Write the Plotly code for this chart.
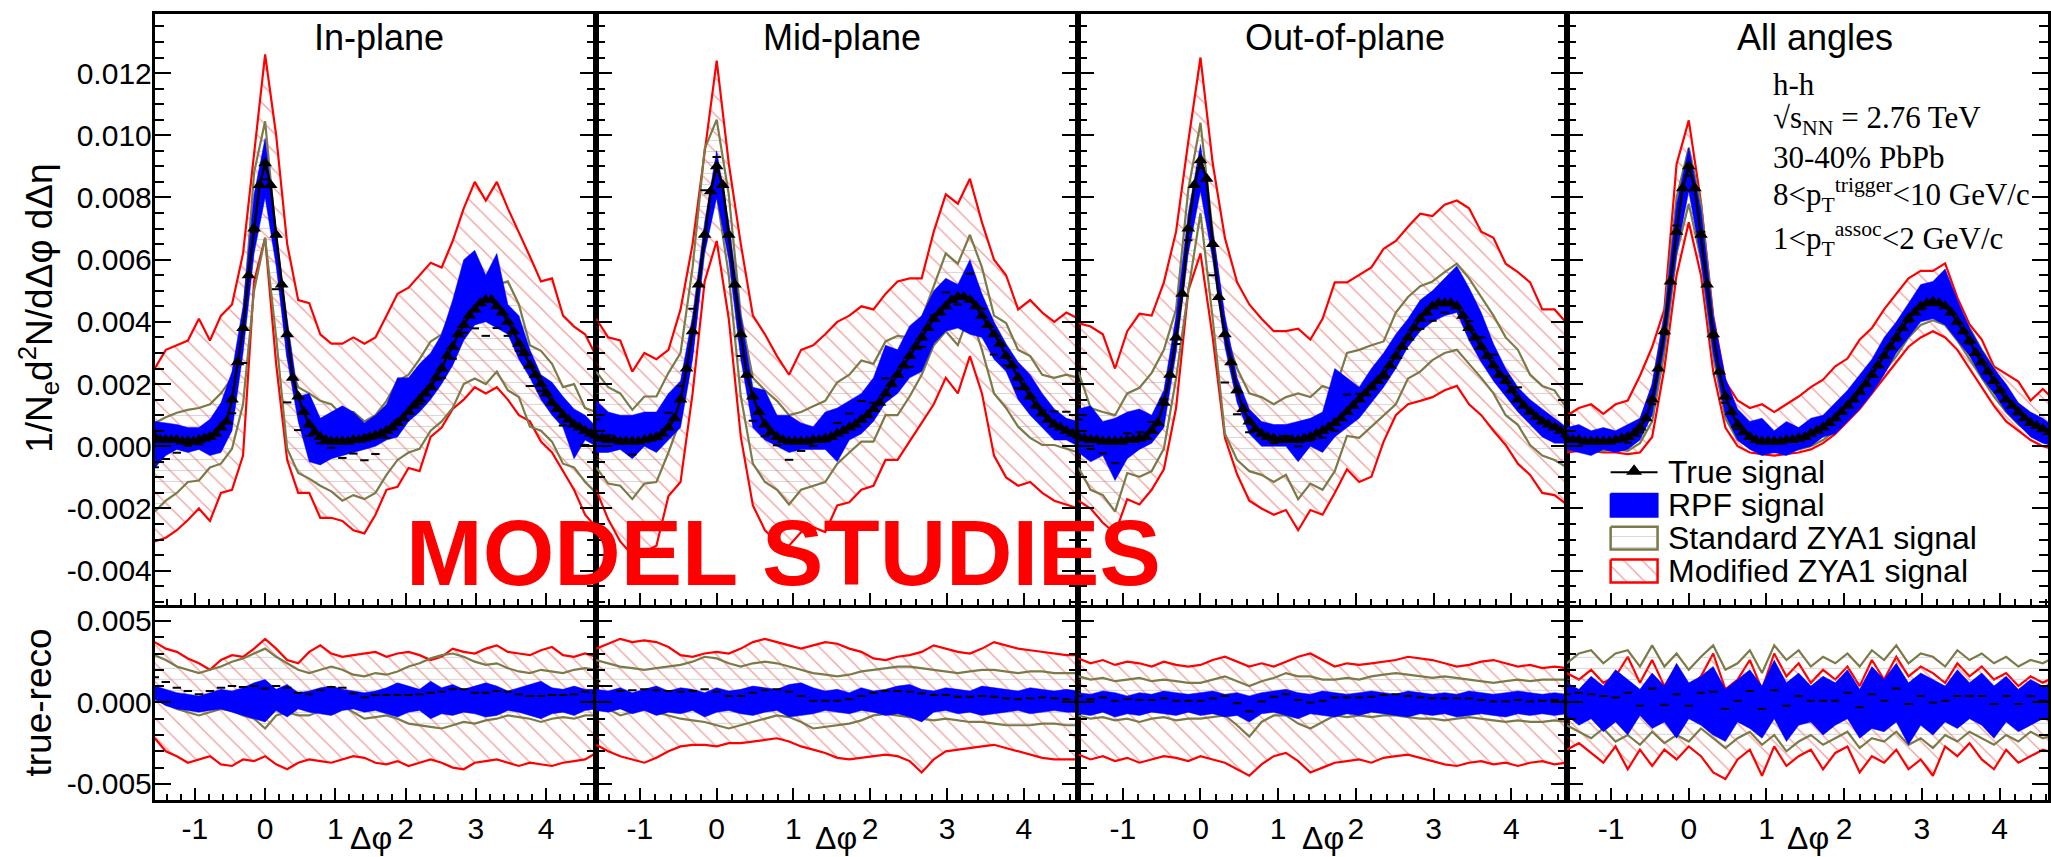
import numpy as np
import plotly.graph_objects as go

PI = np.pi
SCALE = 1e-4  # all values below are in units of 1e-4

panel_titles = ["In-plane", "Mid-plane", "Out-of-plane", "All angles"]
legend_labels = ["True signal", "RPF signal", "Standard ZYA1 signal", "Modified ZYA1 signal"]

# ---------------- top panels: yields (x 1e-4) ----------------
# true signal, 81 points across [-pi/2, 3pi/2]
inplane_true = [3,2,2,2,2,1.5,1.5,1.5,2,2.5, 3,4,6,8,15,27,38,55,70,84, 91,84,68,52,36,22,16,11,7,4.5,
                3,2,1.5,1.5,1.5,1.5,2,2,2.5,3, 3.5,4,5,6,7.5,9,11,13,15,17, 19,22,25,29,32,36,39,42,44,46,
                47,47,45,43,40,37,33,30,26,23, 20,17,14,12,10,8.5,7,6,5,4, 3.5]
midplane_true = [3,2.5,2,2,1.5,1.5,1.5,1.5,2,2.5, 3,4,6,9,15,25,37,52,68,82, 90,84,68,52,36,23,16,11,7,4.5,
                 3,2,1.5,1.5,1.5,1.5,2,2,2.5,3, 4,5,6,7,8.5,10,12,14,17,20, 23,26,29,32,35,38,41,43,45,47,
                 48,48,47,45,42,39,36,33,29,26, 22,19,16,13,10.5,8.5,7,6,5,4, 3.5]
outplane_true = [3,2.5,2,2,1.5,1.5,1.5,1.5,2,2, 2.5,3,5,7.5,14,23,35,49,70,84, 92,86,65,48,36,27,18,12,8,5.5,
                 4,3,2.5,2,2,2,2,2.5,3,4, 5,6,7.5,9,11,13,15,17,19,21, 23,26,29,32,35,38,41,43,45,46,
                 46,46,45,42,38,35,32,29,26,23, 21,18,15,13,11,9.5,8,7,6,5, 4]
allangles_true = [2.5,2,2,1.5,1.5,1.5,1.5,1.5,2,2.5, 3,4,6,9,15,25,37,53,69,83, 90,83,68,52,36,24,16,11,7,4.5,
                  3,2,1.5,1.5,1.5,1.5,2,2,2.5,3, 4,5,6,7.5,9,11,13,15,17.5,20, 23,26,29,32,35,38,41,43,45,46,
                  46.5,46,45,43,40,37,34,30,27,24, 21,18,15,13,11,9,7.5,6.5,5.5,4.5, 4]

# bands, 41 points across [-pi/2, 3pi/2]
inplane_rpf_lo = [-7,-3,-1,-2,-1,-3,-2,5,30,62,80,58,28,8,-5,-6,-4,-3,-2,-1,0,2,3,8,11,15,20,26,34,39,40,38,36,28,22,15,10,6,-4,2,0]
inplane_rpf_hi = [8,7.5,7,6,6,8.7,14,24,45,81,99,69,41,16,17,9,11,13,11,7.5,10,13.5,22,22,26.5,30,36,47,60,63,55,62,45.6,42,31,23,20.6,16,12,10,6.3]
inplane_std_lo = [-21,-17.5,-15,-11.5,-11,-6.8,-5.6,-0.8,13.5,50,67,35,-0.8,-8.6,-10.4,-12.7,-14.5,-17.5,-15.7,-17,-15,-9.2,-4.4,-2,-0.8,5,8,12.3,20,21.8,20,24,18,15.8,6.3,5,1.5,-5.6,-6.8,-11.5,-15]
inplane_std_hi = [7.5,9.3,10.8,11.7,12.3,13.5,17,22,40,88,104.5,66,29,19,17,14.6,13.5,10,11,8,10,14.6,21,23,28,33.7,36,44,53,54,51,52,53,45.6,32.5,30.7,26.5,19,20,12.3,11]
inplane_mod_lo = [-30.6,-29.4,-27,-23.7,-20,-24,-15,-14,-3,53,67,26.5,-4.4,-15,-15,-23,-23,-24,-27,-28,-22,-14,-13,-7,-8,3,6,12,15,19,17,19,15,10,8,1.5,-2,-8,-14,-22,-26]
inplane_mod_hi = [25,31,32.5,34,41,34,42,45.6,62,93,126,100,65,47,46,36,33,33,35,33,35,42,49,51,55,59,57.5,66,76.5,85,79,85,76.5,69,61,53,54,42,38.5,36,29]

midplane_rpf_lo = [-2,-2,-1,-4,0,-2,2,6,28,62,80,60,28,6,2,0,-2,-1,-1,-1,-5,2,4,8,14,17,22,24,33,37,38,36,35,28,24,15,10,6,2,2,0]
midplane_rpf_hi = [14.6,11,10,10,11,11,17,21,42,72,95,72,42,19,18,10,10,7.5,6.3,11,12.3,14.6,17,22,32.5,31,38.7,42,50,54,52,60,49,40,33,27,23,17,12,9,8]
midplane_std_lo = [-6.8,-12,-12.7,-17,-12,-11.5,-2,8.7,31,69,81,55,16,-5.6,-11.5,-14,-18.7,-14,-12.7,-11.5,-5.6,-2,1.5,1.5,10,10,16,23,32.5,37,32.5,43,31,17,12.3,6.3,2.7,0.4,0.4,-0.8,-2]
midplane_std_hi = [24,19,17,11.7,16,16,23.6,30,57.5,95.6,105,81,42,22,18,14.6,10,11,12.9,14.6,20.6,23,27.6,26.5,33.7,35.5,35,41,51.5,62,58.7,68,57.5,42,39.6,31,29,23,22,23,22]
midplane_mod_lo = [-14,-23.5,-30.6,-35,-34,-32,-16,-11.5,17,53,66,41,3,-19,-27,-30.6,-32,-27.6,-26,-27.6,-19,-18,-14,-12.7,-4.4,-4.4,1.5,7.5,13.5,22,17,29,17,-3,-10,-12.7,-11.5,-15,-17.5,-18.7,-20]
midplane_mod_hi = [41,35,34,24,30,28,31,44,65,94,124,91,65,42,36,29,23,31,32.5,36,40,42,45,44,49,53,54,54,69,81,78,86,72,60,55,44,47,43,40,43,41]

outplane_rpf_lo = [-2,-5,-3,-11,-4,-1,1,6,30,62,82,60,32,14,4,0,0,0,-5,0,-2,3,6,9,14,19,25,32,37,40,42,43,34,27,21,16,11,7,3,1,1]
outplane_rpf_hi = [12,13,8,9,11,12,10,18,42,75,97,70,42,22,12,8,7,7,8,9,11,25,22,19,25,30,36,41,47,50,54,58,51,43,33,25,19,15,12,9,6]
outplane_std_lo = [-6.8,-14,-15.7,-21,-8.6,-9.8,-8,-0.8,21.8,50,75,41,4,-4.4,-8,-9.2,-11.5,-9.2,-17,-12,-14,-8,3.3,2.7,6.3,10,13.5,21.8,24,27.7,30,31,26.5,22,17,10,6.9,0.4,-3,-4.4,-6.8]
outplane_std_hi = [24,12.3,11,10,17,18.8,23.6,31,44,82.5,104,69,37,25,17,15.8,13.5,15.8,17,15.8,19.4,18,30,31,32.5,33.7,43,48,51.5,53,56,58.7,54,48,42,35,31,23,19.4,18,12.3]
outplane_mod_lo = [-17.5,-20,-24.6,-28,-17,-18.7,-14,-7.4,12.3,50,62,35,2.7,-9,-17.5,-20,-22,-20.5,-27,-20.5,-22,-15,-7.4,-11.5,-9.8,1.5,10,13.5,14.6,15.8,18,19.4,13.5,10,5,0.4,-5.6,-9.2,-15,-15.7,-18.7]
outplane_mod_hi = [39.6,38.5,36,25,37,42.6,42,52.7,69,98,125,91,67,52.7,45.6,41,37,37,37.8,34.3,41,52.7,52.7,55,57.5,63.5,66,70.6,74.8,74,77.7,79,76.5,69,67,58.7,56,52.7,44,44,39.6]

allangles_rpf_lo = [-1,-2,-3,-1,-2,-1,2,10,32,62,82,60,30,10,2,-1,-3,-2,-3,-1,0,3,4,8,12,17,23,30,35,40,41,39,34,29,22,17,11,7,3,1,0]
allangles_rpf_hi = [6,7,5,6,5,7,9,20,42,78,96,76,42,22,12,8,9,5,8,6,9,10,14,18,23,28,35,40,46,52,53,57,47,38,31,25,20,14,11,9,6]
allangles_std_lo = [-1,-1,-1.5,-1.5,-1,-1.5,1,8,30,62,78,60,29,9,2,-0.5,-1.5,-2,-1.5,-1,0,2,5,9,13,18,24,29,35,39,40.5,39,34,28,22,16,11,7,4,2,1]
allangles_std_hi = [5,4.5,4,4,4.5,4,8,19,42,80,96,78,41,19,9,5.5,4,4,4.5,5,7,9.5,13,17,21.5,27,33,39,45,49,51.5,50,45,38,31,25,18,13.5,10,8,6.5]
allangles_mod_lo = [-2,-1.5,-1.5,-2,-2,-2.5,-2,3,25,55,72,55,24,6,0,-2,-2.5,-3,-2.5,-2,-1,1,4,8,12,17,22,27,32,35,37,35,31,25,19,13,8,5,2,0,-1]
allangles_mod_hi = [9.8,12.3,13.5,10.4,13.5,14.7,22.7,31.9,44,90.7,104.8,78.4,42,20.8,14.7,12.3,13.5,11,13.5,16,19,21.4,25.7,28.2,34.3,38,44,49,54,56.4,56.4,58.8,47.8,39.2,34.3,25.7,23.3,20.8,14.7,18.4,14.7]

# ---------------- bottom panels: true - reco (x 1e-4) ----------------
inplane_d_rpf_lo = [2,-2,-4,-5,-6,-5,-4,-6,-8,-10,-12,-5,-9,-4,-6,-7,-8,-5,-4,-6,-5,-7,-9,-6,-5,-10,-7,-8,-6,-7,-9,-8,-5,-6,-8,-10,-7,-6,-8,-5,-4]
inplane_d_rpf_hi = [10,8,6,5,4,6,8,7,9,12,14,8,11,6,7,9,10,8,7,6,7,9,12,10,8,13,9,11,8,10,12,10,7,9,11,13,9,8,10,8,8]
inplane_d_std_lo = [2,-1,-4,-6,-8,-6,-4,-5,-8,-10,-16,-8,-6,-8,-8,-5,-3,-2,-6,-10,-9,-8,-10,-13,-14,-15,-16,-14,-12,-13,-11,-10,-8,-9,-10,-12,-10,-9,-10,-8,-8]
inplane_d_std_hi = [29,26,22,20,18,20,22,25,27,30,33,28,24,20,18,20,22,20,17,16,18,17,19,22,24,27,29,30,28,25,23,24,21,19,18,20,19,18,20,21,20]
inplane_d_mod_lo = [-22,-30,-33,-37,-35,-33,-38,-39,-35,-36,-33,-38,-41,-37,-35,-36,-37,-35,-33,-34,-37,-38,-36,-39,-37,-35,-37,-40,-41,-37,-36,-35,-37,-39,-37,-38,-39,-37,-36,-35,-31]
inplane_d_mod_hi = [37,33,31,27,24,20,26,29,28,33,39,33,26,24,31,35,30,28,29,30,31,28,30,31,29,26,28,33,31,30,33,35,31,30,29,32,34,29,28,30,28]

midplane_d_rpf_lo = [-5,-6,-4,-7,-5,-8,-6,-7,-5,-9,-6,-5,-7,-8,-6,-5,-9,-8,-7,-5,-6,-7,-5,-6,-8,-7,-9,-12,-6,-5,-7,-6,-8,-7,-6,-5,-7,-6,-5,-6,-6]
midplane_d_rpf_hi = [8,7,9,6,8,10,7,9,8,6,9,7,8,10,9,8,11,12,9,7,8,6,9,7,8,10,11,8,7,9,8,7,10,9,8,7,9,8,7,8,7]
midplane_d_std_lo = [0,-4,-8,-6,-4,-6,-8,-10,-11,-12,-14,-16,-14,-12,-10,-8,-9,-12,-16,-15,-14,-13,-11,-8,-7,-8,-9,-10,-11,-10,-11,-12,-12,-13,-14,-14,-14,-13,-13,-14,-14]
midplane_d_std_hi = [26,24,22,21,20,21,22,23,25,28,27,24,22,24,25,24,22,20,18,17,16,17,19,20,21,22,22,21,20,19,18,19,20,20,19,18,19,19,18,18,18]
midplane_d_mod_lo = [-26,-30,-33,-35,-37,-34,-30,-27,-26,-26,-27,-25,-25,-24,-23,-22,-24,-27,-29,-31,-34,-35,-34,-33,-32,-33,-36,-43,-35,-30,-29,-28,-27,-26,-28,-30,-32,-34,-35,-35,-35]
midplane_d_mod_hi = [33,36,39,37,38,37,34,29,28,30,31,30,33,37,39,37,35,33,35,37,36,33,31,27,26,28,29,31,35,33,31,30,33,37,35,33,32,31,30,29,29]

outplane_d_rpf_lo = [-7,-8,-6,-9,-7,-8,-6,-7,-8,-6,-8,-7,-9,-8,-12,-7,-6,-8,-10,-7,-8,-9,-7,-8,-6,-7,-8,-9,-7,-8,-7,-9,-8,-7,-8,-9,-7,-8,-7,-8,-7]
outplane_d_rpf_hi = [6,5,7,6,4,6,5,7,6,5,6,7,5,6,4,6,7,8,6,5,7,6,5,6,7,6,5,7,6,5,6,5,7,6,5,6,7,6,5,6,5]
outplane_d_std_lo = [-8,-10,-9,-11,-10,-12,-10,-9,-11,-10,-10,-9,-8,-14,-21,-12,-8,-8,-13,-16,-12,-8,-9,-8,-9,-8,-8,-9,-10,-10,-11,-10,-9,-10,-11,-12,-11,-12,-12,-11,-12]
outplane_d_std_hi = [16,14,15,13,14,15,13,14,13,12,12,14,16,13,10,13,15,18,16,16,14,14,15,14,16,17,18,17,16,15,16,15,14,13,12,13,14,13,14,14,14]
outplane_d_mod_lo = [-32,-35,-33,-36,-34,-37,-35,-33,-34,-36,-33,-35,-37,-41,-45,-38,-33,-31,-36,-43,-40,-37,-36,-35,-37,-34,-33,-32,-34,-36,-38,-39,-37,-36,-38,-37,-39,-37,-36,-38,-37]
outplane_d_mod_hi = [27,24,26,23,25,24,22,25,23,22,23,26,28,25,22,24,22,25,28,30,26,22,24,23,24,25,26,28,27,26,24,22,23,25,26,24,22,23,21,22,21]

allangles_d_rpf_lo = [-8,-14,-10,-18,-12,-20,-8,-16,-12,-22,-10,-14,-20,-24,-12,-16,-22,-10,-24,-14,-12,-20,-14,-10,-22,-16,-18,-12,-26,-14,-20,-12,-16,-10,-14,-22,-12,-18,-14,-10,-12]
allangles_d_rpf_hi = [12,8,16,10,20,14,8,18,10,24,12,16,22,8,14,20,10,26,12,18,10,16,12,20,8,22,14,24,12,18,14,10,20,12,18,10,16,8,14,10,12]
allangles_d_std_lo = [-14,-18,-22,-16,-24,-20,-26,-18,-25,-20,-24,-16,-22,-28,-22,-18,-26,-20,-30,-24,-20,-26,-22,-18,-28,-22,-24,-18,-26,-22,-28,-20,-24,-18,-22,-26,-20,-24,-18,-22,-20]
allangles_d_std_hi = [24,30,32,24,30,32,22,35,22,30,20,28,35,20,24,32,18,35,26,32,22,28,24,30,22,32,26,35,24,30,28,22,32,26,30,24,28,22,26,24,28]
allangles_d_mod_lo = [-29,-25,-31,-37,-27,-41,-29,-39,-29,-35,-27,-33,-43,-47,-35,-29,-45,-27,-39,-33,-29,-41,-31,-27,-43,-33,-37,-29,-41,-35,-45,-27,-33,-25,-35,-41,-29,-37,-33,-29,-31]
allangles_d_mod_hi = [18,14,20,12,16,28,12,26,10,22,8,16,30,8,14,26,8,30,16,24,12,20,14,22,10,26,14,28,16,22,18,12,24,16,22,14,18,10,16,12,16]

top_data = [
    (inplane_true, inplane_rpf_lo, inplane_rpf_hi, inplane_std_lo, inplane_std_hi, inplane_mod_lo, inplane_mod_hi),
    (midplane_true, midplane_rpf_lo, midplane_rpf_hi, midplane_std_lo, midplane_std_hi, midplane_mod_lo, midplane_mod_hi),
    (outplane_true, outplane_rpf_lo, outplane_rpf_hi, outplane_std_lo, outplane_std_hi, outplane_mod_lo, outplane_mod_hi),
    (allangles_true, allangles_rpf_lo, allangles_rpf_hi, allangles_std_lo, allangles_std_hi, allangles_mod_lo, allangles_mod_hi),
]
bottom_data = [
    (inplane_d_rpf_lo, inplane_d_rpf_hi, inplane_d_std_lo, inplane_d_std_hi, inplane_d_mod_lo, inplane_d_mod_hi),
    (midplane_d_rpf_lo, midplane_d_rpf_hi, midplane_d_std_lo, midplane_d_std_hi, midplane_d_mod_lo, midplane_d_mod_hi),
    (outplane_d_rpf_lo, outplane_d_rpf_hi, outplane_d_std_lo, outplane_d_std_hi, outplane_d_mod_lo, outplane_d_mod_hi),
    (allangles_d_rpf_lo, allangles_d_rpf_hi, allangles_d_std_lo, allangles_d_std_hi, allangles_d_mod_lo, allangles_d_mod_hi),
]

top_yticks = [-0.004, -0.002, 0.0, 0.002, 0.004, 0.006, 0.008, 0.010, 0.012]
top_yticktext = ["-0.004", "-0.002", "0.000", "0.002", "0.004", "0.006", "0.008", "0.010", "0.012"]
bot_yticks = [-0.005, 0.0, 0.005]
bot_yticktext = ["-0.005", "0.000", "0.005"]
xticks = [-1, 0, 1, 2, 3, 4]
xticktext = ["-1", "0", "1", "2", "3", "4"]

info_lines = ["h-h", "\u221As<sub>NN</sub> = 2.76 TeV", "30-40% PbPb",
              "8&lt;p<sub>T</sub><sup>trigger</sup>&lt;10 GeV/c",
              "1&lt;p<sub>T</sub><sup>assoc</sup>&lt;2 GeV/c"]

# ---------------- styling / layout ----------------
W, H = 2051, 857
RED = "#ff0000"
OLIVE = "#7b7a48"
BLUE = "#0000ff"
FONT = "Liberation Sans, Arial, Helvetica, sans-serif"
SERIF = "Liberation Serif, Times New Roman, serif"
MOD_PATTERN = dict(shape="\\", fgcolor="rgba(225,20,20,0.85)", size=13, solidity=0.1, fillmode="overlay")
STD_PATTERN = dict(shape="-", fgcolor="rgba(150,150,150,0.75)", size=11, solidity=0.1, fillmode="overlay")

x_px = [(155, 597), (597, 1080), (1080, 1569), (1569, 2051)]
x_ranges = [[-PI / 2, 3 * PI / 2]] * 3 + [[-PI / 2, -PI / 2 + (2051 - 1569) / 489.0 * 2 * PI]]
top_y_px = (11, 604)
bot_y_px = (607, 800)

# legend geometry (pixels)
LEG_X0, LEG_X1, LEG_TEXT_X = 1613, 1660, 1668
LEG_ROWS = [471, 504, 537, 570]
LEG_HALF_H = 11.5


def grid(arr):
    return np.linspace(-PI / 2, 3 * PI / 2, len(arr))


fig = go.Figure()


def ax_names(k):
    return ("x" if k == 1 else f"x{k}"), ("y" if k == 1 else f"y{k}")


def add_band(k, lo, hi, kind):
    xa, ya = ax_names(k)
    xl, xh = grid(lo), grid(hi)
    xs = list(xh) + list(xl[::-1])
    ys = list(np.array(hi) * SCALE) + list(np.array(lo)[::-1] * SCALE)
    if kind == "mod":
        tr = go.Scatter(x=xs, y=ys, mode="lines", fill="toself",
                        fillcolor="rgba(255,255,255,0)", fillpattern=MOD_PATTERN,
                        line=dict(color=RED, width=2.2))
    elif kind == "std":
        tr = go.Scatter(x=xs, y=ys, mode="lines", fill="toself",
                        fillcolor="rgba(255,255,255,0)", fillpattern=STD_PATTERN,
                        line=dict(color=OLIVE, width=2.2))
    else:
        tr = go.Scatter(x=xs, y=ys, mode="lines", fill="toself", fillcolor=BLUE,
                        line=dict(color=BLUE, width=0.5))
    tr.update(xaxis=xa, yaxis=ya, hoverinfo="skip", showlegend=False)
    fig.add_trace(tr)


def add_dashes(k, lo, hi):
    xa, ya = ax_names(k)
    g = grid(lo)
    mid = (np.interp(g, grid(lo), lo) + np.interp(g, grid(hi), hi)) / 2.0
    fig.add_trace(go.Scatter(x=g, y=mid * SCALE, mode="markers", showlegend=False,
                             marker=dict(symbol="line-ew", size=6, color="black",
                                         line=dict(width=2, color="black")),
                             xaxis=xa, yaxis=ya, hoverinfo="skip"))


for i in range(4):
    true, rlo, rhi, slo, shi, mlo, mhi = top_data[i]
    k = i + 1
    add_band(k, mlo, mhi, "mod")
    add_band(k, slo, shi, "std")
    add_band(k, rlo, rhi, "rpf")
    add_dashes(k, slo, shi)
    xa, ya = ax_names(k)
    fig.add_trace(go.Scatter(x=grid(true), y=np.array(true) * SCALE, mode="lines+markers",
                             line=dict(color="black", width=2.5),
                             marker=dict(symbol="triangle-up", size=12, color="black"),
                             showlegend=False, xaxis=xa, yaxis=ya, hoverinfo="skip"))

for i in range(4):
    rlo, rhi, slo, shi, mlo, mhi = bottom_data[i]
    k = i + 5
    add_band(k, mlo, mhi, "mod")
    add_band(k, slo, shi, "std")
    add_band(k, rlo, rhi, "rpf")
    add_dashes(k, slo, shi)

# ---- legend drawn in a pixel-space overlay axis (x9/y9) ----
def box(row):
    yc = LEG_ROWS[row]
    return ([LEG_X0, LEG_X1, LEG_X1, LEG_X0, LEG_X0],
            [yc - LEG_HALF_H, yc - LEG_HALF_H, yc + LEG_HALF_H, yc + LEG_HALF_H, yc - LEG_HALF_H])

fig.add_trace(go.Scatter(x=[LEG_X0, (LEG_X0 + LEG_X1) / 2, LEG_X1], y=[LEG_ROWS[0]] * 3,
                         mode="lines", line=dict(color="black", width=2),
                         xaxis="x9", yaxis="y9", showlegend=False, hoverinfo="skip"))
fig.add_trace(go.Scatter(x=[(LEG_X0 + LEG_X1) / 2], y=[LEG_ROWS[0] - 1], mode="markers",
                         marker=dict(symbol="triangle-up", size=14, color="black"),
                         xaxis="x9", yaxis="y9", showlegend=False, hoverinfo="skip"))
bx, by = box(1)
fig.add_trace(go.Scatter(x=bx, y=by, mode="lines", fill="toself", fillcolor=BLUE,
                         line=dict(color=BLUE, width=2), xaxis="x9", yaxis="y9",
                         showlegend=False, hoverinfo="skip"))
bx, by = box(2)
fig.add_trace(go.Scatter(x=bx, y=by, mode="lines", fill="toself", fillcolor="rgba(255,255,255,0)",
                         fillpattern=STD_PATTERN, line=dict(color=OLIVE, width=2.5),
                         xaxis="x9", yaxis="y9", showlegend=False, hoverinfo="skip"))
bx, by = box(3)
fig.add_trace(go.Scatter(x=bx, y=by, mode="lines", fill="toself", fillcolor="rgba(255,255,255,0)",
                         fillpattern=MOD_PATTERN, line=dict(color=RED, width=2.5),
                         xaxis="x9", yaxis="y9", showlegend=False, hoverinfo="skip"))

layout = dict(width=W, height=H, margin=dict(l=0, r=0, t=0, b=0),
              paper_bgcolor="white", plot_bgcolor="rgba(0,0,0,0)", hovermode=False,
              showlegend=False, font=dict(family=FONT, color="black"))

tickfont = dict(family=FONT, size=30, color="black")
for i in range(4):
    d0, d1 = x_px[i][0] / W, x_px[i][1] / W
    for row in (0, 1):
        k = i + 1 + 4 * row
        xkey = "xaxis" if k == 1 else f"xaxis{k}"
        ykey = "yaxis" if k == 1 else f"yaxis{k}"
        ya = "y" if k == 1 else f"y{k}"
        xa = "x" if k == 1 else f"x{k}"
        layout[xkey] = dict(domain=[d0, min(d1, 1.0)], range=x_ranges[i], anchor=ya,
                            showgrid=False, zeroline=False, showline=True, linewidth=3,
                            linecolor="black", mirror=True, ticks="inside", ticklen=12,
                            tickwidth=2, tickcolor="black", tickmode="array",
                            tickvals=xticks, ticktext=xticktext,
                            showticklabels=(row == 1), tickfont=tickfont,
                            ticklabelstandoff=0,
                            minor=dict(tickmode="linear", tick0=0, dtick=0.2, ticks="inside",
                                       ticklen=6, tickwidth=2, tickcolor="black", showgrid=False))
        if row == 0:
            ydom = [(H - top_y_px[1]) / H, (H - top_y_px[0]) / H]
            yr = [-0.0051, 0.0139]
            tv, tt, mdt = top_yticks, top_yticktext, 0.0005
        else:
            ydom = [(H - bot_y_px[1]) / H, (H - bot_y_px[0]) / H]
            yr = [-0.0060, 0.0058]
            tv, tt, mdt = bot_yticks, bot_yticktext, 0.001
        layout[ykey] = dict(domain=ydom, range=yr, anchor=xa, showgrid=False, zeroline=False,
                            showline=True, linewidth=3, linecolor="black", mirror="allticks",
                            ticks="inside", ticklen=16, tickwidth=2, tickcolor="black",
                            tickmode="array", tickvals=tv, ticktext=tt,
                            showticklabels=(i == 0), tickfont=tickfont, ticklabelstandoff=-6,
                            minor=dict(tickmode="linear", tick0=0, dtick=mdt, ticks="inside",
                                       ticklen=9, tickwidth=2, tickcolor="black", showgrid=False))

layout["xaxis9"] = dict(domain=[0, 1], range=[0, W], visible=False, anchor="y9", fixedrange=True)
layout["yaxis9"] = dict(domain=[0, 1], range=[H, 0], visible=False, anchor="x9", fixedrange=True)

annotations = []
title_x = [380, 843, 1347, 1818]
for i, t in enumerate(panel_titles):
    annotations.append(dict(text=t, x=title_x[i] / W, y=(H - 35) / H, xref="paper", yref="paper",
                            showarrow=False, xanchor="center", yanchor="middle",
                            font=dict(family=FONT, size=36, color="black")))
dphi_x = [372, 837, 1325, 1811]
for xx in dphi_x:
    annotations.append(dict(text="\u0394\u03c6", x=xx / W, y=(H - 838) / H, xref="paper", yref="paper",
                            showarrow=False, xanchor="center", yanchor="middle",
                            font=dict(family=FONT, size=32, color="black")))
annotations.append(dict(text="1/N<sub>e</sub>d<sup>2</sup>N/d\u0394\u03c6 d\u0394\u03b7", textangle=-90,
                        x=39 / W, y=(H - 306) / H, xref="paper", yref="paper", showarrow=False,
                        xanchor="center", yanchor="middle",
                        font=dict(family=FONT, size=37, color="black")))
annotations.append(dict(text="true-reco", textangle=-90,
                        x=39 / W, y=(H - 702) / H, xref="paper", yref="paper", showarrow=False,
                        xanchor="center", yanchor="middle",
                        font=dict(family=FONT, size=37, color="black")))
info_y = [82, 117, 155, 193, 237]
for t, yy in zip(info_lines, info_y):
    annotations.append(dict(text=t, x=1774 / W, y=(H - yy) / H, xref="paper", yref="paper",
                            showarrow=False, xanchor="left", yanchor="middle",
                            font=dict(family=SERIF, size=31, color="black")))
for lab, yy in zip(legend_labels, LEG_ROWS):
    annotations.append(dict(text=lab, x=LEG_TEXT_X / W, y=(H - yy) / H, xref="paper", yref="paper",
                            showarrow=False, xanchor="left", yanchor="middle",
                            font=dict(family=FONT, size=32, color="black")))
annotations.append(dict(text="<b>MODEL STUDIES</b>", x=785 / W, y=(H - 552) / H, xref="paper",
                        yref="paper", showarrow=False, xanchor="center", yanchor="middle",
                        font=dict(family=FONT, size=92, color="#ff0000")))
layout["annotations"] = annotations

fig.update_layout(**layout)
fig.write_html("out.html", config={"displayModeBar": False},
               post_script="document.body.style.margin='0';")
